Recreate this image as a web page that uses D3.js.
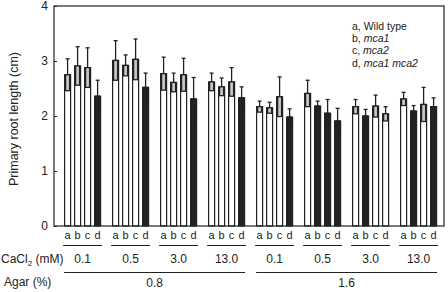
<!DOCTYPE html>
<html><head><meta charset="utf-8">
<script src="https://cdn.jsdelivr.net/npm/d3@7"></script>
<style>body{margin:0;background:#fff}text{font-family:"Liberation Sans",Arial,sans-serif;fill:#222}</style>
</head><body><svg id="c" width="448" height="292"></svg>
<script>
const groups = ["g1","g2","g3","g4","g5","g6","g7","g8"];
const cacl2 = ["0.1","0.5","3.0","13.0","0.1","0.5","3.0","13.0"];
const agarLabels = ["0.8","1.6"];
const genotypes = ["a","b","c","d"];
const legendLines = [["a, ","Wild type",false],["b, ","mca1",true],["c, ","mca2",true],["d, ","mca1 mca2",true]];
const means = [
  [2.75,2.91,2.88,2.36],
  [3.01,2.92,3.03,2.52],
  [2.77,2.61,2.75,2.31],
  [2.62,2.53,2.62,2.33],
  [2.17,2.15,2.35,1.98],
  [2.41,2.18,2.05,1.91],
  [2.17,2.00,2.18,2.04],
  [2.31,2.09,2.21,2.17]
];
const sds = [
  [0.29,0.35,0.36,0.29],
  [0.36,0.19,0.37,0.26],
  [0.30,0.17,0.30,0.39],
  [0.16,0.16,0.26,0.20],
  [0.10,0.10,0.36,0.15],
  [0.24,0.09,0.25,0.23],
  [0.13,0.12,0.20,0.13],
  [0.12,0.10,0.31,0.16]
];
const dark = [
  [0,0,0,1],[0,0,0,1],[0,0,0,1],[0,0,0,1],
  [0,0,0,1],[0,1,1,1],[0,1,0,0],[0,1,0,1]
];
const yTicks = [0,1,2,3,4];

const svg = d3.select("#c");
const L = 54, R = 444, T = 6, B = 226;
const y = d3.scaleLinear().domain([0,4]).range([B,T]);
const xg = d3.scaleBand().domain(groups).range([58.6,442.6]).paddingInner(0.229).paddingOuter(0.1145);
const xb = d3.scaleBand().domain(genotypes).range([0,xg.bandwidth()]).paddingInner(0.3).paddingOuter(0);

// bars
groups.forEach((g,gi)=>{
  const gs = svg.append("g").attr("transform",`translate(${xg(g)},0)`);
  genotypes.forEach((k,ki)=>{
    const m = means[gi][ki], s = sds[gi][ki], bx = xb(k), bw = xb.bandwidth();
    const isDark = dark[gi][ki];
    gs.append("rect").attr("x",bx+0.5).attr("y",y(m)).attr("width",bw-1).attr("height",B-y(m))
      .attr("fill",isDark?"#222":"#fff").attr("stroke","#222").attr("stroke-width",1.2);
    gs.append("rect").attr("x",bx+1.5).attr("y",y(m)).attr("width",bw-3).attr("height",y(m-s)-y(m))
      .attr("fill",isDark?"#222":"#c8c8c8").attr("stroke","#222").attr("stroke-width",1.3);
    const cx = bx+bw/2;
    gs.append("line").attr("x1",cx).attr("x2",cx).attr("y1",y(m)).attr("y2",y(m+s)).attr("stroke","#222").attr("stroke-width",1.3);
    gs.append("line").attr("x1",cx-2).attr("x2",cx+2).attr("y1",y(m+s)).attr("y2",y(m+s)).attr("stroke","#222").attr("stroke-width",1.3);
    gs.append("text").attr("x",cx).attr("y",239).attr("text-anchor","middle").attr("font-size",11).text(k);
  });
  svg.append("line").attr("x1",xg(g)-1).attr("x2",xg(g)+xg.bandwidth()+1).attr("y1",245.5).attr("y2",245.5).attr("stroke","#222").attr("stroke-width",1.2);
  svg.append("text").attr("x",xg(g)+xg.bandwidth()/2).attr("y",263).attr("text-anchor","middle").attr("font-size",12).text(cacl2[gi]);
});

// frame
svg.append("rect").attr("x",L).attr("y",T).attr("width",R-L).attr("height",B-T).attr("fill","none").attr("stroke","#222").attr("stroke-width",1.2);

// y axis
const ya = svg.append("g").attr("transform",`translate(${L},0)`).call(d3.axisLeft(y).tickValues(yTicks).tickFormat(d3.format("d")).tickSizeInner(-3).tickSizeOuter(0).tickPadding(6));
ya.select(".domain").remove();
ya.selectAll("text").attr("font-size",12).style("font-family","Liberation Sans, Arial, sans-serif").attr("fill","#222");
ya.selectAll("line").attr("stroke","#222");

svg.append("text").attr("transform",`translate(18,119) rotate(-90)`).attr("text-anchor","middle").attr("font-size",12.5).text("Primary root length (cm)");

// agar
[[0,3],[4,7]].forEach(([a,b],i)=>{
  const x1 = xg(groups[a]), x2 = xg(groups[b])+xg.bandwidth();
  svg.append("line").attr("x1",x1).attr("x2",x2).attr("y1",272.5).attr("y2",272.5).attr("stroke","#222").attr("stroke-width",1.2);
  svg.append("text").attr("x",(x1+x2)/2).attr("y",287).attr("text-anchor","middle").attr("font-size",12).text(agarLabels[i]);
});

const ct = svg.append("text").attr("x",1).attr("y",263).attr("font-size",12);
ct.append("tspan").text("CaCl");
ct.append("tspan").attr("font-size",8).attr("dy",3).text("2");
ct.append("tspan").attr("dy",-3).text(" (mM)");
svg.append("text").attr("x",4).attr("y",286).attr("font-size",12).text("Agar (%)");

// legend
legendLines.forEach((l,i)=>{
  const t = svg.append("text").attr("x",352).attr("y",29.5+i*12.4).attr("font-size",10.5);
  t.append("tspan").text(l[0]);
  t.append("tspan").attr("font-style",l[2]?"italic":"normal").text(l[1]);
});
</script></body></html>
